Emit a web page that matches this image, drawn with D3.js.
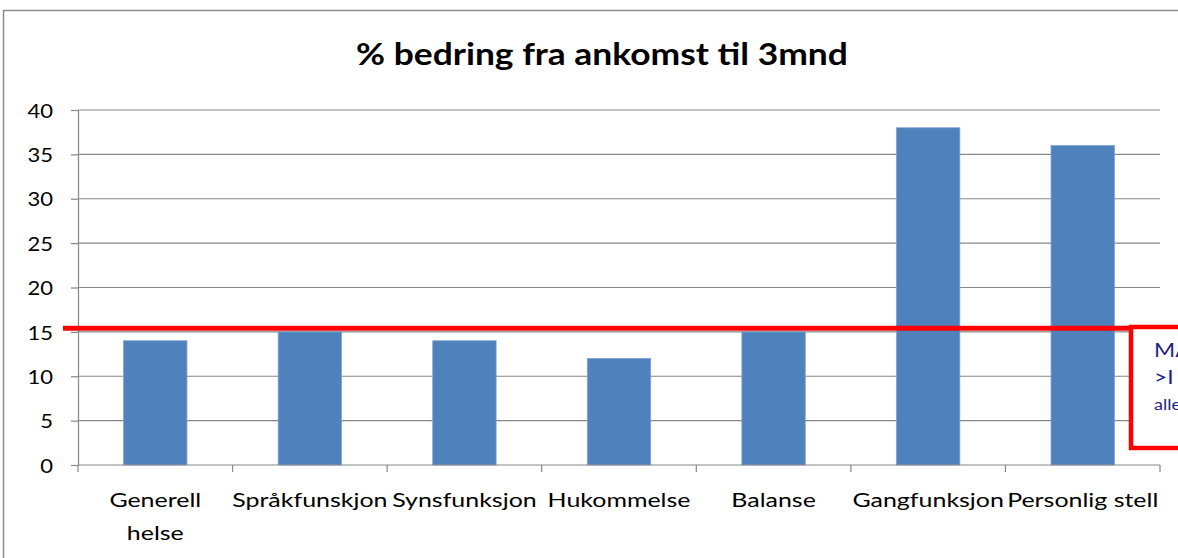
<!DOCTYPE html>
<html>
<head>
<meta charset="utf-8">
<script src="https://cdnjs.cloudflare.com/ajax/libs/d3/7.8.5/d3.min.js"></script>
<style>
  body { margin: 0; background: #fff; }
  svg { display: block; font-family: Lato, "Open Sans", sans-serif; }
</style>
</head>
<body>
<svg width="1178" height="558"></svg>
<script>
var categories = ['Generell helse', 'Språkfunskjon', 'Synsfunksjon', 'Hukommelse', 'Balanse', 'Gangfunksjon', 'Personlig stell'];
var values = [14, 15, 14, 12, 15, 38, 36];
var yTicks = [0, 5, 10, 15, 20, 25, 30, 35, 40];
var markLevel = 15.4;
var boxLines = ['MA', '>I', 'alle'];

var svg = d3.select('svg');

// outer chart frame
svg.append('rect').attr('x', 3.5).attr('y', 10.5).attr('width', 1200).attr('height', 600)
  .attr('fill', 'white').attr('stroke', '#8c8c8c').attr('stroke-width', 1.5);

var pLeft = 78, pRight = 1160, pTop = 110, pBottom = 465;

var x = d3.scaleBand().domain(categories).range([pLeft, pRight]).paddingInner(0.59).paddingOuter(0.295);
var y = d3.scaleLinear().domain([0, 40]).range([pBottom, pTop]);

// title (stretched a bit wider, like the original)
svg.append('text').attr('transform', 'translate(602,65) scale(1.18,1)').attr('text-anchor', 'middle')
  .attr('font-size', 30).attr('font-weight', 'bold').attr('fill', '#000')
  .text('% bedring fra ankomst til 3mnd');

// gridlines
svg.append('g').selectAll('line').data(yTicks.slice(1)).join('line')
  .attr('x1', pLeft).attr('x2', pRight).attr('y1', d => y(d)).attr('y2', d => y(d))
  .attr('stroke', '#878787').attr('stroke-width', 1.2);

// y axis
var yAxis = svg.append('g').attr('transform', 'translate(' + pLeft + ',0)')
  .call(d3.axisLeft(y).tickValues(yTicks).tickSize(7));
yAxis.select('.domain').attr('stroke', '#878787').attr('stroke-width', 1.2);
yAxis.selectAll('.tick line').attr('stroke', '#878787').attr('stroke-width', 1.2);
yAxis.selectAll('.tick text').attr('font-size', 20).attr('fill', '#000')
  .attr('font-family', 'Lato, sans-serif')
  .attr('x', null).attr('dy', '0.36em')
  .attr('transform', 'translate(-25,0) scale(1.1,1)');

// bars
svg.append('g').selectAll('rect').data(values).join('rect')
  .attr('x', (d, i) => x(categories[i]))
  .attr('y', d => y(d))
  .attr('width', x.bandwidth())
  .attr('height', d => y(0) - y(d))
  .attr('fill', '#4f81bd').attr('stroke', '#7ea2cf').attr('stroke-width', 0.8);

// x axis
var step = x.step();
var xAxis = svg.append('g');
xAxis.append('line').attr('x1', pLeft).attr('x2', pRight).attr('y1', pBottom).attr('y2', pBottom)
  .attr('stroke', '#878787').attr('stroke-width', 1.2);
xAxis.selectAll('line.tk').data(d3.range(categories.length + 1)).join('line').attr('class', 'tk')
  .attr('x1', i => pLeft + i * step).attr('x2', i => pLeft + i * step)
  .attr('y1', pBottom).attr('y2', pBottom + 7)
  .attr('stroke', '#878787').attr('stroke-width', 1.2);

var labels = xAxis.selectAll('text').data(categories).join('text')
  .attr('transform', d => 'translate(' + (x(d) + x.bandwidth() / 2) + ',507) scale(1.28,1)')
  .attr('text-anchor', 'middle').attr('font-size', 19.5).attr('fill', '#000');
labels.each(function(d) {
  var t = d3.select(this);
  var parts = d === 'Generell helse' ? ['Generell', 'helse'] : [d];
  parts.forEach(function(p, k) {
    t.append('tspan').attr('x', 0).attr('dy', k === 0 ? 0 : 33).text(p);
  });
});

// red marker line
svg.append('line').attr('x1', 63).attr('x2', 1178).attr('y1', y(markLevel)).attr('y2', y(markLevel))
  .attr('stroke', '#ff0000').attr('stroke-width', 5);

// red annotation box
svg.append('rect').attr('x', 1131).attr('y', 327).attr('width', 80).attr('height', 121)
  .attr('fill', 'white').attr('stroke', '#ff0000').attr('stroke-width', 4.5);
svg.append('g').selectAll('text').data(boxLines).join('text')
  .attr('transform', (d, i) => 'translate(1154,' + [357, 384, 410][i] + ') scale(1.2,1)')
  .attr('font-size', (d, i) => i === 2 ? 15 : 19)
  .attr('fill', '#1f1f8a').text(d => d);
</script>
</body>
</html>
